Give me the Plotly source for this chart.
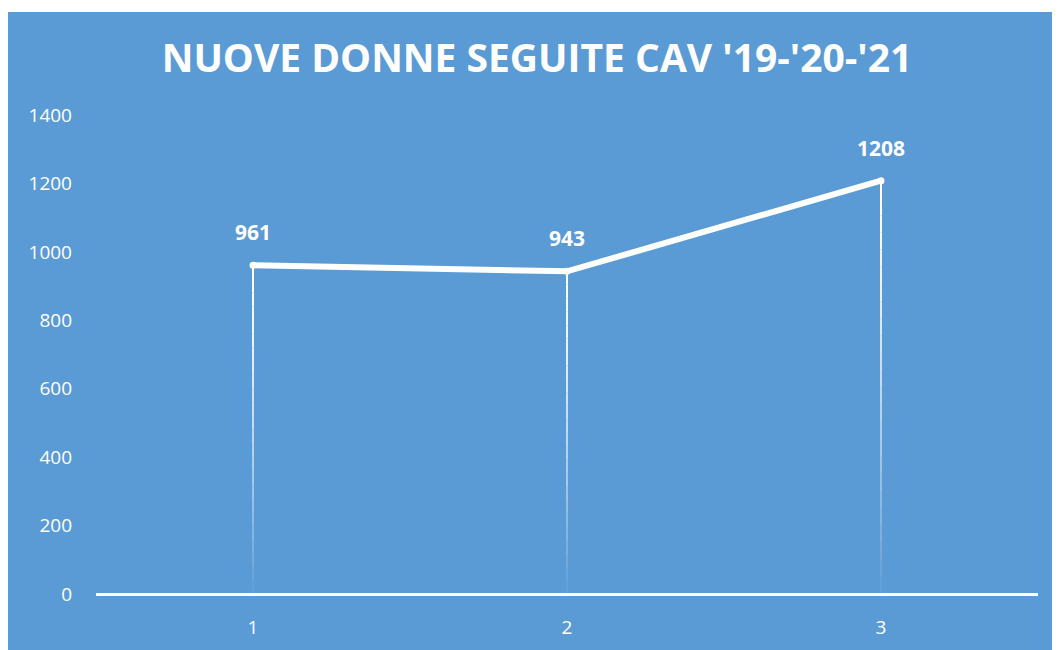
import plotly.graph_objects as go

categories = [1, 2, 3]
values = [961, 943, 1208]
title_text = "NUOVE DONNE SEGUITE CAV '19-'20-'21"
y_ticks = [0, 200, 400, 600, 800, 1000, 1200, 1400]

BLUE = "#5B9BD5"
FONT = "Open Sans"

ML, MR, MT, MB = 88, 30, 107, 64
PW, PH = 1060 - ML - MR, 650 - MT - MB

fig = go.Figure()

# drop lines with fading gradient (top opaque -> bottom transparent)
n_seg = 24
for x, v in zip(categories, values):
    for i in range(n_seg):
        y0 = v * (1 - i / n_seg)
        y1 = v * (1 - (i + 1) / n_seg)
        op = max(0.06, 1 - (i / n_seg) ** 1.3)
        fig.add_trace(go.Scatter(
            x=[x, x], y=[y0, y1], mode="lines",
            line=dict(color=f"rgba(255,255,255,{op:.3f})", width=2),
            hoverinfo="skip", showlegend=False))

# main line
fig.add_trace(go.Scatter(
    x=categories, y=values, mode="lines+markers",
    line=dict(color="white", width=6),
    marker=dict(color="white", size=7),
    showlegend=False))

for x, v in zip(categories, values):
    fig.add_annotation(x=x, y=v, text=f"<b>{v}</b>", showarrow=False,
                       yshift=33, font=dict(family=FONT, size=21, color="white"))

# blue background panel (thin white margin at top)
fig.add_shape(type="rect", xref="paper", yref="paper",
              x0=-ML / PW, x1=1 + MR / PW, y0=-MB / PH, y1=1 + (MT - 4) / PH,
              fillcolor=BLUE, line=dict(width=0), layer="below")

fig.update_layout(
    width=1060, height=650,
    margin=dict(l=ML, r=MR, t=MT, b=MB),
    paper_bgcolor="white", plot_bgcolor=BLUE,
    title=dict(text=f"<b>{title_text}</b>", x=529 / 1060, xanchor="center",
               y=1 - 50 / 650, yanchor="middle",
               font=dict(family=FONT, size=39, color="white")),
    xaxis=dict(range=[0.5, 3.5], tickvals=categories, ticktext=[str(c) for c in categories],
               showgrid=False, zeroline=False, showline=False, ticks="",
               ticklabelstandoff=20,
               tickfont=dict(family=FONT, size=19, color="white")),
    yaxis=dict(range=[0, 1400], tickvals=y_ticks, showgrid=False, zeroline=True,
               zerolinecolor="white", zerolinewidth=2.5, showline=False, ticks="",
               ticklabelstandoff=23,
               tickfont=dict(family=FONT, size=19, color="white")),
)

fig.write_html("out.html")
